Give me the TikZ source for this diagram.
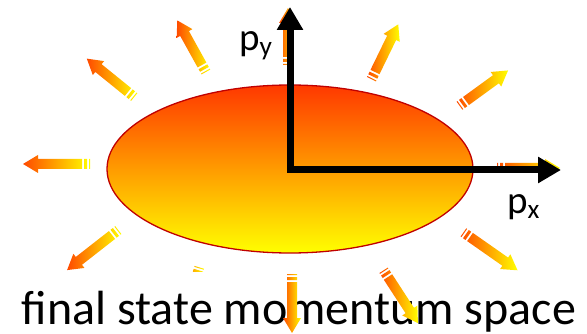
\documentclass[tikz,border=0pt]{standalone}
\usepackage{fontspec}
\setmainfont{Carlito}
\usetikzlibrary{arrows.meta,shapes.geometric}
\definecolor{flowRed}{HTML}{FF3800}
\definecolor{flowOrange}{HTML}{FF4A00}
\definecolor{flowYellow}{HTML}{FFFF00}
\definecolor{rimRed}{HTML}{C00000}
% striped block arrow: tail at #1, direction #2, length #3
\newcommand{\flowarrow}[3]{%
  \begin{scope}[shift={(#1)}, rotate=#2]
    \shade[left color=flowOrange, right color=flowYellow]
      (0,-5) -- (#3-15,-5) -- (#3-15,-9) -- (#3,0) -- (#3-15,9) -- (#3-15,5) -- (0,5) -- cycle
      (-5,-5) rectangle (-2,5)
      (-8,-5) rectangle (-7,5);
  \end{scope}}

\begin{document}
\begin{tikzpicture}[x=1pt, y=-1pt,
  axis/.style={line width=7pt, line join=miter,
    {Triangle[length=23pt,width=25pt]}-{Triangle[length=23pt,width=25pt]}},
  lbl/.style={font=\fontsize{39}{39}\selectfont, inner sep=0pt}]
\useasboundingbox (0,0) rectangle (587,334);
% the emitting region
\node[ellipse, draw=rimRed, line width=1.3pt, top color=flowRed, bottom color=flowYellow,
  minimum width=366pt, minimum height=168pt, inner sep=0pt] (blob) at (290,169) {};
% outgoing momenta
\foreach \ax/\ay/\ang/\len in {128/92/141/53, 202/65/119/51, 288/57/90/49,
    375/72/64/53, 466/101/36/52, 505/168/0/55, 470/237/-35/58,
    112/235/218/57, 82/164/180/59, 197/275/253/50}
  \flowarrow{\ax,\ay}{\ang}{\len};
\node[fill=white, inner ysep=0pt, text height=52pt, text depth=9pt, anchor=base,
  font=\fontsize{48}{48}\selectfont]
  (caption) at (299,324) {final state momentum space};
\foreach \ax/\ay/\ang/\len in {388/277/-57/55, 292/282/-90/51}
  \flowarrow{\ax,\ay}{\ang}{\len};
% momentum axes
\coordinate (O) at (290,170);
\coordinate (ytip) at (290,7);
\coordinate (xtip) at (561,170);
\draw[axis] (ytip) -- (O) -- (xtip);
\node[lbl, anchor=base west] (py) at (239,51) {p\textsubscript{y}};
\node[lbl, anchor=base west] (px) at (507,214) {p\textsubscript{x}};
\end{tikzpicture}
\end{document}
